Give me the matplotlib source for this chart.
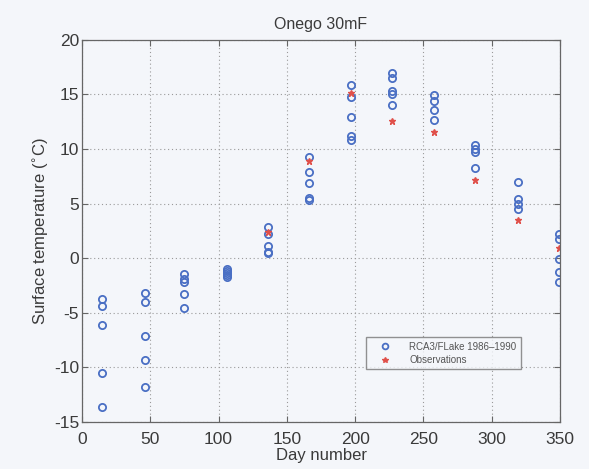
import matplotlib
matplotlib.use("Agg")
import matplotlib.pyplot as plt
import numpy as np

plt.rcParams['font.family'] = ['Liberation Sans', 'DejaVu Sans']
plt.rcParams['axes.unicode_minus'] = False

# Model output: day of year and simulated surface temperatures (one list per day)
model_days = [15, 46, 75, 106, 136, 166, 197, 227, 258, 288, 319, 349]
model_temps = [
    [-3.7, -4.4, -6.1, -10.5, -13.6],
    [-3.2, -4.0, -7.1, -9.35, -11.8],
    [-1.45, -1.9, -2.2, -3.3, -4.55],
    [-1.0, -1.2, -1.35, -1.5, -1.7],
    [2.9, 2.2, 1.1, 0.55, 0.45],
    [9.3, 7.9, 6.9, 5.5, 5.3],
    [15.85, 14.8, 12.95, 11.2, 10.8],
    [17.0, 16.5, 15.3, 15.0, 14.0],
    [14.95, 14.4, 13.6, 12.65],
    [10.35, 10.05, 9.75, 8.3],
    [6.95, 5.45, 4.95, 4.55],
    [2.25, 1.8, -0.1, -1.25, -2.2],
]

# Observed surface temperatures
obs_days = [136, 166, 197, 227, 258, 288, 319, 349]
obs_temps = [2.4, 8.9, 15.1, 12.55, 11.55, 7.15, 3.5, 0.9]

x_ticks = [0, 50, 100, 150, 200, 250, 300, 350]
y_ticks = [-15, -10, -5, 0, 5, 10, 15, 20]

paper = '#f4f6fa'
text_col = '#3a3a3a'

fig = plt.figure(figsize=(5.89, 4.69), dpi=100, facecolor=paper)
ax = fig.add_axes([0.139, 0.100, 0.812, 0.815], facecolor=paper)

mx = np.concatenate([[d] * len(t) for d, t in zip(model_days, model_temps)])
my = np.concatenate(model_temps)

ax.plot(mx, my, linestyle='none', marker='o', markersize=5.2,
        markerfacecolor='none', markeredgecolor='#4a6fc4', markeredgewidth=1.3,
        label='RCA3/FLake 1986\u20131990')
ax.plot(obs_days, obs_temps, linestyle='none', marker='*', markersize=5,
        color='#e0504a', label='Observations')

ax.set_xlim(0, 350)
ax.set_ylim(-15, 20)
ax.set_xticks(x_ticks)
ax.set_yticks(y_ticks)
ax.tick_params(direction='in', length=4, width=0.8, colors='#666666',
               labelcolor=text_col, labelsize=12.5, top=True, right=True)
ax.tick_params(axis='x', pad=7)
ax.tick_params(axis='y', pad=2)
ax.grid(True, linestyle=(0, (1, 2.5)), color='#9a9a9a', linewidth=0.8)
for s in ax.spines.values():
    s.set_color('#666666')
    s.set_linewidth(0.9)

ax.set_xlabel('Day number', fontsize=12, color=text_col, labelpad=1)
ax.set_ylabel('Surface temperature ($^{\\circ}$C)', fontsize=12, color=text_col, labelpad=2)
ax.set_title('Onego 30mF', fontsize=11.5, color=text_col, pad=8)

leg = ax.legend(loc='lower right', bbox_to_anchor=(0.928, 0.125), fontsize=7,
                frameon=True, fancybox=False, edgecolor='#777777',
                facecolor=paper, handletextpad=1.0, borderpad=0.45,
                labelspacing=0.35, handlelength=3.0, markerscale=0.8)
for t in leg.get_texts():
    t.set_color('#555555')

fig.savefig('out.png', dpi=100, facecolor=paper)
